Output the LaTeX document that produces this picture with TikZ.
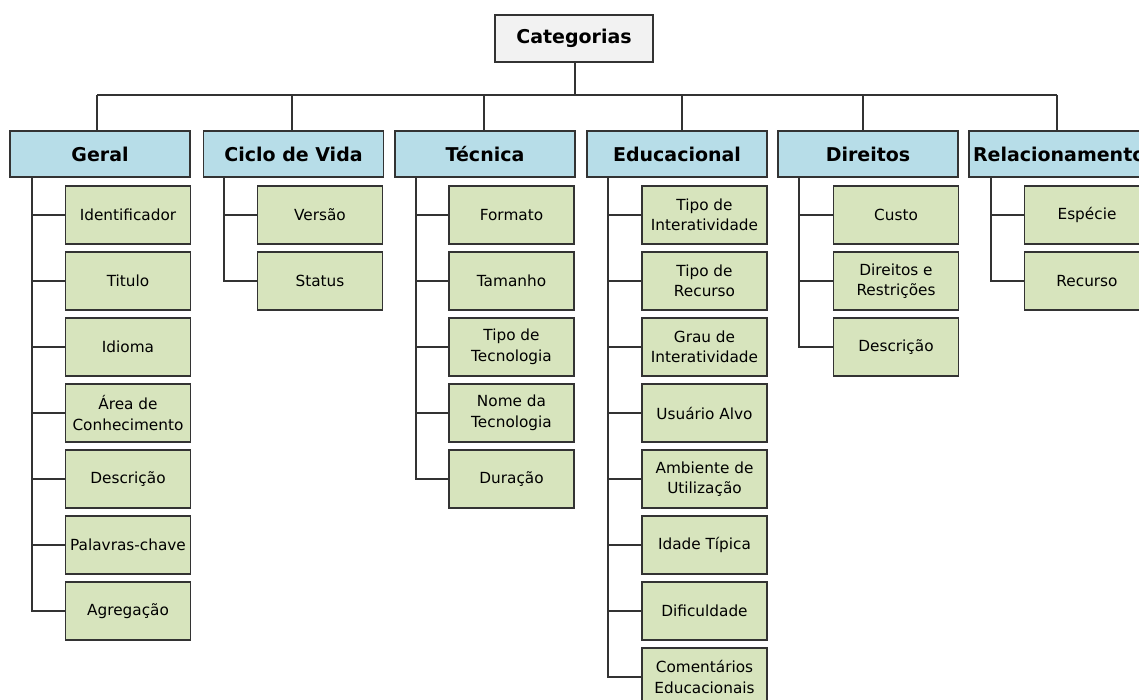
\documentclass[tikz,border=0pt]{standalone}
\usepackage{fontspec}
\setmainfont{DejaVu Sans}
\definecolor{linec}{RGB}{51,51,51}
\definecolor{catblue}{RGB}{183,221,232}
\definecolor{leafgreen}{RGB}{215,228,189}
\definecolor{rootgray}{RGB}{242,242,242}
\begin{document}
\begin{tikzpicture}[x=1pt,y=-1pt,
  conn/.style={draw=linec,line width=1.6pt},
  rootbox/.style={draw=linec,line width=1.6pt,fill=rootgray,minimum width=158pt,minimum height=47pt,inner sep=0pt,font=\fontsize{19}{22}\selectfont\bfseries},
  catbox/.style={draw=linec,line width=1.6pt,fill=catblue,minimum width=180pt,minimum height=46pt,inner sep=0pt,font=\fontsize{19}{22}\selectfont\bfseries},
  leaf/.style={draw=linec,line width=1.6pt,fill=leafgreen,minimum width=125pt,minimum height=58pt,inner sep=0pt,align=center,font=\fontsize{15.3}{20.5}\selectfont}
]
\useasboundingbox (0,0) rectangle (1139,700);
\clip (0,0) rectangle (1139,700);
\fill[white] (0,0) rectangle (1139,700);

% root
\node[rootbox] (root) at (574,38.5) {Categorias};

% categories
\node[catbox] (geral) at (100,154) {Geral};
\node[catbox] (ciclo) at (293.5,154) {Ciclo de Vida};
\node[catbox] (tec) at (485,154) {Técnica};
\node[catbox] (edu) at (677,154) {Educacional};
\node[catbox] (dir) at (868,154) {Direitos};
\node[catbox, text width=172pt, align=left] (rel) at (1059,154) {Relacionamento};

% bus
\coordinate (busL) at (97,95);
\coordinate (busR) at (1057,95);
\coordinate (dA) at (97,95);
\coordinate (dB) at (292,95);
\coordinate (dC) at (484,95);
\coordinate (dD) at (682,95);
\coordinate (dE) at (863,95);
\coordinate (dF) at (1057,95);
\coordinate (rootstem) at (575,95);
\draw[conn] (root.south -| rootstem) -- (rootstem);
\draw[conn] (busL) -- (busR);
\draw[conn] (dA) -- (dA |- geral.north);
\draw[conn] (dB) -- (dB |- ciclo.north);
\draw[conn] (dC) -- (dC |- tec.north);
\draw[conn] (dD) -- (dD |- edu.north);
\draw[conn] (dE) -- (dE |- dir.north);
\draw[conn] (dF) -- (dF |- rel.north);

% Geral leaves
\node[leaf] (g1) at (128,215) {Identificador};
\node[leaf] (g2) at (128,281) {Titulo};
\node[leaf] (g3) at (128,347) {Idioma};
\node[leaf] (g4) at (128,413) {Área de\\Conhecimento};
\node[leaf] (g5) at (128,479) {Descrição};
\node[leaf] (g6) at (128,545) {Palavras-chave};
\node[leaf] (g7) at (128,611) {Agregação};
\coordinate (gt) at (32,177);
\draw[conn] (gt) |- (g7.west);
\foreach \n in {g1,g2,g3,g4,g5,g6} \draw[conn] (\n.west) -- (\n.west -| gt);

% Ciclo leaves
\node[leaf] (c1) at (320,215) {Versão};
\node[leaf] (c2) at (320,281) {Status};
\coordinate (ct) at (224,177);
\draw[conn] (ct) |- (c2.west);
\draw[conn] (c1.west) -- (c1.west -| ct);

% Tecnica leaves
\node[leaf] (t1) at (511.5,215) {Formato};
\node[leaf] (t2) at (511.5,281) {Tamanho};
\node[leaf] (t3) at (511.5,347) {Tipo de\\Tecnologia};
\node[leaf] (t4) at (511.5,413) {Nome da\\Tecnologia};
\node[leaf] (t5) at (511.5,479) {Duração};
\coordinate (tt) at (416,177);
\draw[conn] (tt) |- (t5.west);
\foreach \n in {t1,t2,t3,t4} \draw[conn] (\n.west) -- (\n.west -| tt);

% Educacional leaves
\node[leaf] (e1) at (704.5,215) {Tipo de\\Interatividade};
\node[leaf] (e2) at (704.5,281) {Tipo de\\Recurso};
\node[leaf] (e3) at (704.5,347) {Grau de\\Interatividade};
\node[leaf] (e4) at (704.5,413) {Usuário Alvo};
\node[leaf] (e5) at (704.5,479) {Ambiente de\\Utilização};
\node[leaf] (e6) at (704.5,545) {Idade Típica};
\node[leaf] (e7) at (704.5,611) {Dificuldade};
\node[leaf] (e8) at (704.5,677) {Comentários\\Educacionais};
\coordinate (et) at (608,177);
\draw[conn] (et) |- (e8.west);
\foreach \n in {e1,e2,e3,e4,e5,e6,e7} \draw[conn] (\n.west) -- (\n.west -| et);

% Direitos leaves
\node[leaf] (r1) at (896,215) {Custo};
\node[leaf] (r2) at (896,281) {Direitos e\\Restrições};
\node[leaf] (r3) at (896,347) {Descrição};
\coordinate (rt) at (799,177);
\draw[conn] (rt) |- (r3.west);
\foreach \n in {r1,r2} \draw[conn] (\n.west) -- (\n.west -| rt);

% Relacionamento leaves
\node[leaf] (l1) at (1087,215) {Espécie};
\node[leaf] (l2) at (1087,281) {Recurso};
\coordinate (lt) at (991,177);
\draw[conn] (lt) |- (l2.west);
\draw[conn] (l1.west) -- (l1.west -| lt);
\end{tikzpicture}
\end{document}
